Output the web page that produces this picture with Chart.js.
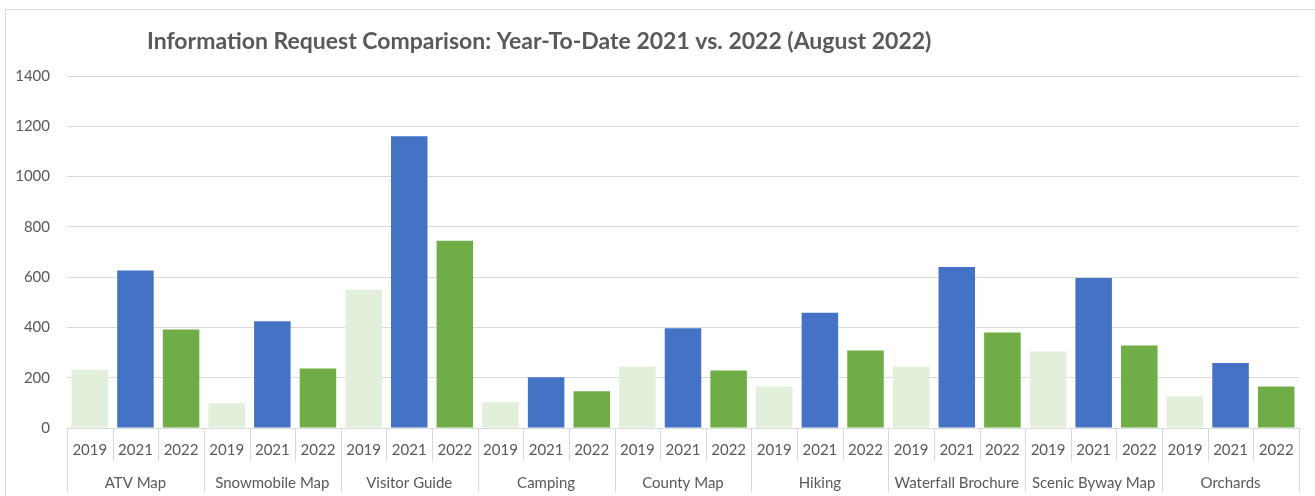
<!DOCTYPE html>
<html>
<head>
<meta charset="utf-8">
<script src="https://cdn.jsdelivr.net/npm/chart.js@4/dist/chart.umd.min.js"></script>
<style>
  html, body { margin: 0; padding: 0; background: #ffffff; }
  #wrap { width: 1315px; height: 496px; position: relative; }
</style>
</head>
<body>
<div id="wrap"><canvas id="c" width="1315" height="496"></canvas></div>
<script>
const groups = ["ATV Map", "Snowmobile Map", "Visitor Guide", "Camping", "County Map", "Hiking", "Waterfall Brochure", "Scenic Byway Map", "Orchards"];
const years = ["2019", "2021", "2022"];
const values2019 = [232, 98, 550, 102, 245, 165, 245, 304, 126];
const values2021 = [626, 425, 1160, 202, 397, 458, 640, 597, 259];
const values2022 = [392, 237, 745, 146, 229, 308, 380, 328, 165];
const yearColors = ["#E2EFDA", "#4472C4", "#70AD47"];
const titleText = "Information Request Comparison: Year-To-Date 2021 vs. 2022 (August 2022)";

const labels = [], data = [], colors = [];
groups.forEach((g, i) => {
  [values2019, values2021, values2022].forEach((arr, j) => {
    labels.push(years[j]);
    data.push(arr[i]);
    colors.push(yearColors[j]);
  });
});

const FONT = "Lato, 'Open Sans', sans-serif";
const TEXT = "#595959";
const GRID = "#d9d9d9";

const decor = {
  id: "decor",
  beforeDraw(chart) {
    const ctx = chart.ctx;
    ctx.save();
    ctx.fillStyle = "#ffffff";
    ctx.fillRect(0, 0, chart.width, chart.height);
    ctx.strokeStyle = GRID;
    ctx.lineWidth = 1;
    ctx.strokeRect(5.5, 9.5, chart.width + 20, chart.height + 20);
    ctx.restore();
  },
  afterDraw(chart) {
    const ctx = chart.ctx;
    const xs = chart.scales.x;
    const area = chart.chartArea;
    const n = labels.length;
    const w = (area.right - area.left) / n;
    ctx.save();
    ctx.strokeStyle = GRID;
    ctx.lineWidth = 1;
    for (let i = 0; i <= n; i++) {
      const x = Math.round(area.left + i * w) + 0.5;
      ctx.beginPath();
      ctx.moveTo(x, area.bottom);
      ctx.lineTo(x, i % 3 === 0 ? 492 : 461);
      ctx.stroke();
    }
    ctx.fillStyle = TEXT;
    ctx.font = "15px " + FONT;
    ctx.textAlign = "center";
    ctx.textBaseline = "middle";
    groups.forEach((g, gi) => {
      const cx = (xs.getPixelForValue(gi * 3) + xs.getPixelForValue(gi * 3 + 2)) / 2;
      ctx.fillText(g, cx, 483);
    });
    ctx.font = "bold 23px " + FONT;
    ctx.textAlign = "left";
    ctx.fillText(titleText, 147, 42);
    ctx.restore();
  }
};

new Chart(document.getElementById("c"), {
  type: "bar",
  data: {
    labels: labels,
    datasets: [{
      data: data,
      backgroundColor: colors,
      borderWidth: 0,
      barPercentage: 0.8,
      categoryPercentage: 1.0
    }]
  },
  options: {
    responsive: false,
    animation: false,
    devicePixelRatio: 1,
    layout: { padding: { left: 0, right: 16, top: 76, bottom: 0 } },
    plugins: { legend: { display: false }, title: { display: false }, tooltip: { enabled: false } },
    scales: {
      x: {
        grid: { display: false, drawTicks: false },
        border: { display: true, color: GRID, width: 1 },
        ticks: { color: TEXT, font: { family: FONT, size: 15 }, padding: 13, maxRotation: 0, autoSkip: false },
        afterFit(s) { s.height = 68; }
      },
      y: {
        min: 0, max: 1400,
        ticks: { stepSize: 200, color: TEXT, font: { family: FONT, size: 15 }, padding: 17, callback: (v) => String(v) },
        grid: { color: GRID, drawTicks: false },
        border: { display: false },
        afterFit(s) { s.width = 67; }
      }
    }
  },
  plugins: [decor]
});
</script>
</body>
</html>
